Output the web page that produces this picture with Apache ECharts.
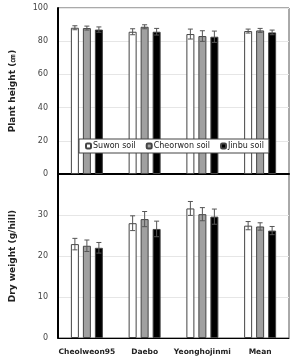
<!DOCTYPE html>
<html>
<head>
<meta charset="utf-8">
<script src="https://cdn.jsdelivr.net/npm/echarts@6/dist/echarts.min.js"></script>
<style>
html,body{margin:0;padding:0;background:#fff;}
#chart{width:294px;height:361px;}
</style>
</head>
<body>
<div id="chart"></div>
<script>
// cultivars (x axis)
var categories = ['Cheolweon95', 'Daebo', 'Yeonghojinmi', 'Mean'];
var soils = ['Suwon soil', 'Cheorwon soil', 'Jinbu soil'];

// plant height (cm)
var heightSuwon    = [88.1, 85.7, 84.3, 86.1];
var heightCheorwon = [87.9, 88.7, 83.1, 86.5];
var heightJinbu    = [87.0, 85.7, 82.7, 85.3];
var heightErrSuwon    = [1.2, 1.8, 3.0, 1.2];
var heightErrCheorwon = [1.2, 1.2, 3.2, 1.2];
var heightErrJinbu    = [1.6, 2.0, 3.4, 1.4];

// dry weight (g/hill)
var dryS = [22.9, 28.0, 31.6, 27.4];
var dryC = [22.5, 29.0, 30.2, 27.2];
var dryJ = [22.0, 26.6, 29.6, 26.2];
var dryErrS = [1.4, 1.8, 1.7, 1.0];
var dryErrC = [1.4, 1.85, 1.6, 0.9];
var dryErrJ = [1.3, 1.9, 1.85, 1.0];

var fills = ['#ffffff', '#a0a0a0', '#000000'];

var myChart = echarts.init(document.getElementById('chart'));

function errData(vals, errs){
	var out = [];
	for(var i=0;i<vals.length;i++){
		out.push([i, vals[i], errs[i]]);
	}
	return out;
}

// error bar drawer, k = position of bar in the group (0,1,2)
function errRender(k){
	return function(params, api){
		var x = api.value(0), v = api.value(1), e = api.value(2);
		var hi = api.coord([x, v+e]);
		var lo = api.coord([x, v-e]);
		var cx = hi[0] + (k-1)*12;
		var st = {stroke:'#555', lineWidth:1};
		return {
			type:'group',
			children:[
				{type:'line', shape:{x1:cx, y1:hi[1], x2:cx, y2:lo[1]}, style:st},
				{type:'line', shape:{x1:cx-2.5, y1:hi[1], x2:cx+2.5, y2:hi[1]}, style:st},
				{type:'line', shape:{x1:cx-2.5, y1:lo[1], x2:cx+2.5, y2:lo[1]}, style:st}
			]
		};
	};
}

function barSeries(name, data, k, gi){
	return {
		type:'bar',
		name:name,
		xAxisIndex:gi,
		yAxisIndex:gi,
		data:data,
		barWidth:8,
		barGap:'50%',
		itemStyle:{color:fills[k], borderColor:'#444', borderWidth:1},
		silent:true
	};
}

function errSeries(vals, errs, k, gi){
	return {
		type:'custom',
		xAxisIndex:gi,
		yAxisIndex:gi,
		renderItem:errRender(k),
		data:errData(vals, errs),
		z:3,
		silent:true
	};
}

var tickFont = {fontFamily:'DejaVu Sans', fontSize:8, color:'#444'};

var option = {
	animation:false,
	backgroundColor:'#fff',
	legend:{
		data:soils,
		left:79,
		top:139,
		itemWidth:5,
		itemHeight:5,
		itemGap:10,
		padding:[3,5,3,6],
		backgroundColor:'#fff',
		borderColor:'#444',
		borderWidth:1,
		z:10,
		textStyle:{fontFamily:'DejaVu Sans', fontSize:8, color:'#222', padding:[0,0,0,-3]}
	},
	grid:[
		{left:52, right:5, top:8, height:166, show:true, borderColor:'#555', borderWidth:1},
		{left:52, right:5, top:174, height:164, show:true, borderColor:'#555', borderWidth:1}
	],
	xAxis:[
		{
			type:'category', gridIndex:0, data:categories,
			axisLine:{lineStyle:{color:'#000', width:2}},
			axisTick:{show:false},
			axisLabel:{show:false}
		},
		{
			type:'category', gridIndex:1, data:categories,
			axisLine:{lineStyle:{color:'#000', width:1}},
			axisTick:{show:false},
			axisLabel:{interval:0, fontFamily:'DejaVu Sans', fontSize:7.5, fontWeight:'bold', color:'#222', margin:10}
		}
	],
	yAxis:[
		{
			type:'value', gridIndex:0, min:0, max:100, interval:20,
			name:'Plant height (㎝)', nameLocation:'middle', nameGap:41,
			nameTextStyle:{fontFamily:'DejaVu Sans', fontSize:9, fontWeight:'bold', color:'#222'},
			axisLine:{show:true, lineStyle:{color:'#000', width:2}},
			axisTick:{show:false},
			axisLabel:Object.assign({margin:10}, tickFont),
			splitLine:{lineStyle:{color:'#e6e6e6'}}
		},
		{
			type:'value', gridIndex:1, min:0, max:40, interval:10,
			name:'Dry weight (g/hill)', nameLocation:'middle', nameGap:41,
			nameTextStyle:{fontFamily:'DejaVu Sans', fontSize:9, fontWeight:'bold', color:'#222'},
			axisLine:{show:true, lineStyle:{color:'#000', width:2}},
			axisTick:{show:false},
			axisLabel:Object.assign({margin:10, showMaxLabel:false}, tickFont),
			splitLine:{lineStyle:{color:'#e6e6e6'}}
		}
	],
	series:[
		barSeries(soils[0], heightSuwon, 0, 0),
		barSeries(soils[1], heightCheorwon, 1, 0),
		barSeries(soils[2], heightJinbu, 2, 0),
		barSeries(soils[0], dryS, 0, 1),
		barSeries(soils[1], dryC, 1, 1),
		barSeries(soils[2], dryJ, 2, 1),
		errSeries(heightSuwon, heightErrSuwon, 0, 0),
		errSeries(heightCheorwon, heightErrCheorwon, 1, 0),
		errSeries(heightJinbu, heightErrJinbu, 2, 0),
		errSeries(dryS, dryErrS, 0, 1),
		errSeries(dryC, dryErrC, 1, 1),
		errSeries(dryJ, dryErrJ, 2, 1)
	]
};
myChart.setOption(option);
</script>
</body>
</html>
